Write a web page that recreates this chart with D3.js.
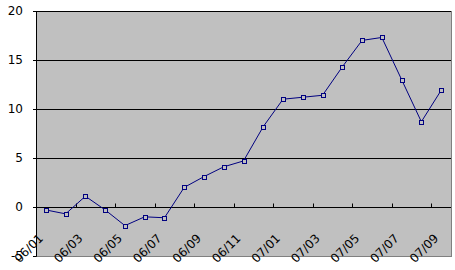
<!DOCTYPE html>
<html>
<head>
<meta charset="utf-8">
<title>Line chart</title>
<script src="https://cdnjs.cloudflare.com/ajax/libs/d3/7.8.5/d3.min.js"></script>
<style>
  body { margin: 0; background: #fff; }
  svg { display: block; }
  text { font-family: "DejaVu Sans", "Liberation Sans", sans-serif; font-size: 12px; fill: #000; }
</style>
</head>
<body>
<svg class="chart"></svg>
<script>
// months shown on the category axis
var months = ["06/01","06/02","06/03","06/04","06/05","06/06","06/07","06/08","06/09","06/10","06/11","06/12",
              "07/01","07/02","07/03","07/04","07/05","07/06","07/07","07/08","07/09"];
// values
var values = [-0.3, -0.7, 1.1, -0.3, -1.9, -1.0, -1.1, 2.0, 3.1, 4.1, 4.7, 8.2,
              11.0, 11.2, 11.4, 14.3, 17.0, 17.3, 13.0, 8.7, 11.9];
var yTicks = [-5, 0, 5, 10, 15, 20];
// only every other month gets a label
var labelMonths = months.filter(function(d, i){ return i % 2 === 0; });

var W = 455, H = 270;
var margin = {top: 11, right: 4, bottom: 14, left: 36};
var width = W - margin.left - margin.right;
var height = H - margin.top - margin.bottom;

var svg = d3.select(".chart").attr("width", W).attr("height", H);
var chart = svg.append("g").attr("transform", "translate(" + margin.left + "," + margin.top + ")");

var x = d3.scaleBand().domain(months).range([0, width]);
var y = d3.scaleLinear().domain([-5, 20]).range([height, 0]);

// plot area
chart.append("rect")
     .attr("width", width).attr("height", height)
     .attr("fill", "#c0c0c0").attr("stroke", "#808080").attr("stroke-width", 1)
     .attr("shape-rendering", "crispEdges");

// gridlines
chart.append("g").selectAll("line")
     .data(yTicks.filter(function(d){ return d > 0; }))
     .enter().append("line")
     .attr("x1", 0).attr("x2", width)
     .attr("y1", function(d){ return Math.round(y(d)) + 0.5; })
     .attr("y2", function(d){ return Math.round(y(d)) + 0.5; })
     .attr("stroke", "#000");

// y axis
var yAxis = d3.axisLeft(y).tickValues(yTicks).tickSize(3).tickPadding(10);
var gy = chart.append("g").attr("class", "y axis").call(yAxis);
gy.select(".domain").attr("stroke", "#000");
gy.selectAll("text").text(function(d){ return d; });

// x axis crosses at 0, ticks every two months on the category boundaries
var tickPos = d3.range(0, months.length + 1, 2).map(function(i){ return i * x.step(); });
var gx = chart.append("g").attr("transform", "translate(0," + (Math.round(y(0)) + 0.5) + ")");
gx.append("line").attr("x1", 0).attr("x2", width).attr("stroke", "#000");
gx.selectAll(".tk").data(tickPos).enter().append("line")
  .attr("class", "tk")
  .attr("x1", function(d){ return Math.round(d) + 0.5; })
  .attr("x2", function(d){ return Math.round(d) + 0.5; })
  .attr("y1", 0).attr("y2", -4)
  .attr("stroke", "#000");

// rotated labels along the bottom of the plot area
chart.append("g").selectAll("text")
     .data(labelMonths)
     .enter().append("text")
     .attr("text-anchor", "end")
     .attr("transform", function(d){
        return "translate(" + (x(d) + x.bandwidth() / 2 - 2) + "," + (height - 17) + ") rotate(-45)";
     })
     .text(function(d){ return d; });

// series
var pts = months.map(function(m, i){ return [x(m) + x.bandwidth() / 2, y(values[i])]; });
chart.append("path")
     .datum(pts)
     .attr("fill", "none")
     .attr("stroke", "#000080")
     .attr("stroke-width", 1)
     .attr("d", d3.line());

chart.append("g").selectAll("rect")
     .data(pts)
     .enter().append("rect")
     .attr("x", function(d){ return Math.round(d[0]) - 2 + 0.5; })
     .attr("y", function(d){ return Math.round(d[1]) - 2 + 0.5; })
     .attr("width", 4).attr("height", 4)
     .attr("fill", "#c0c0c0")
     .attr("stroke", "#000080")
     .attr("stroke-width", 1);
</script>
</body>
</html>
